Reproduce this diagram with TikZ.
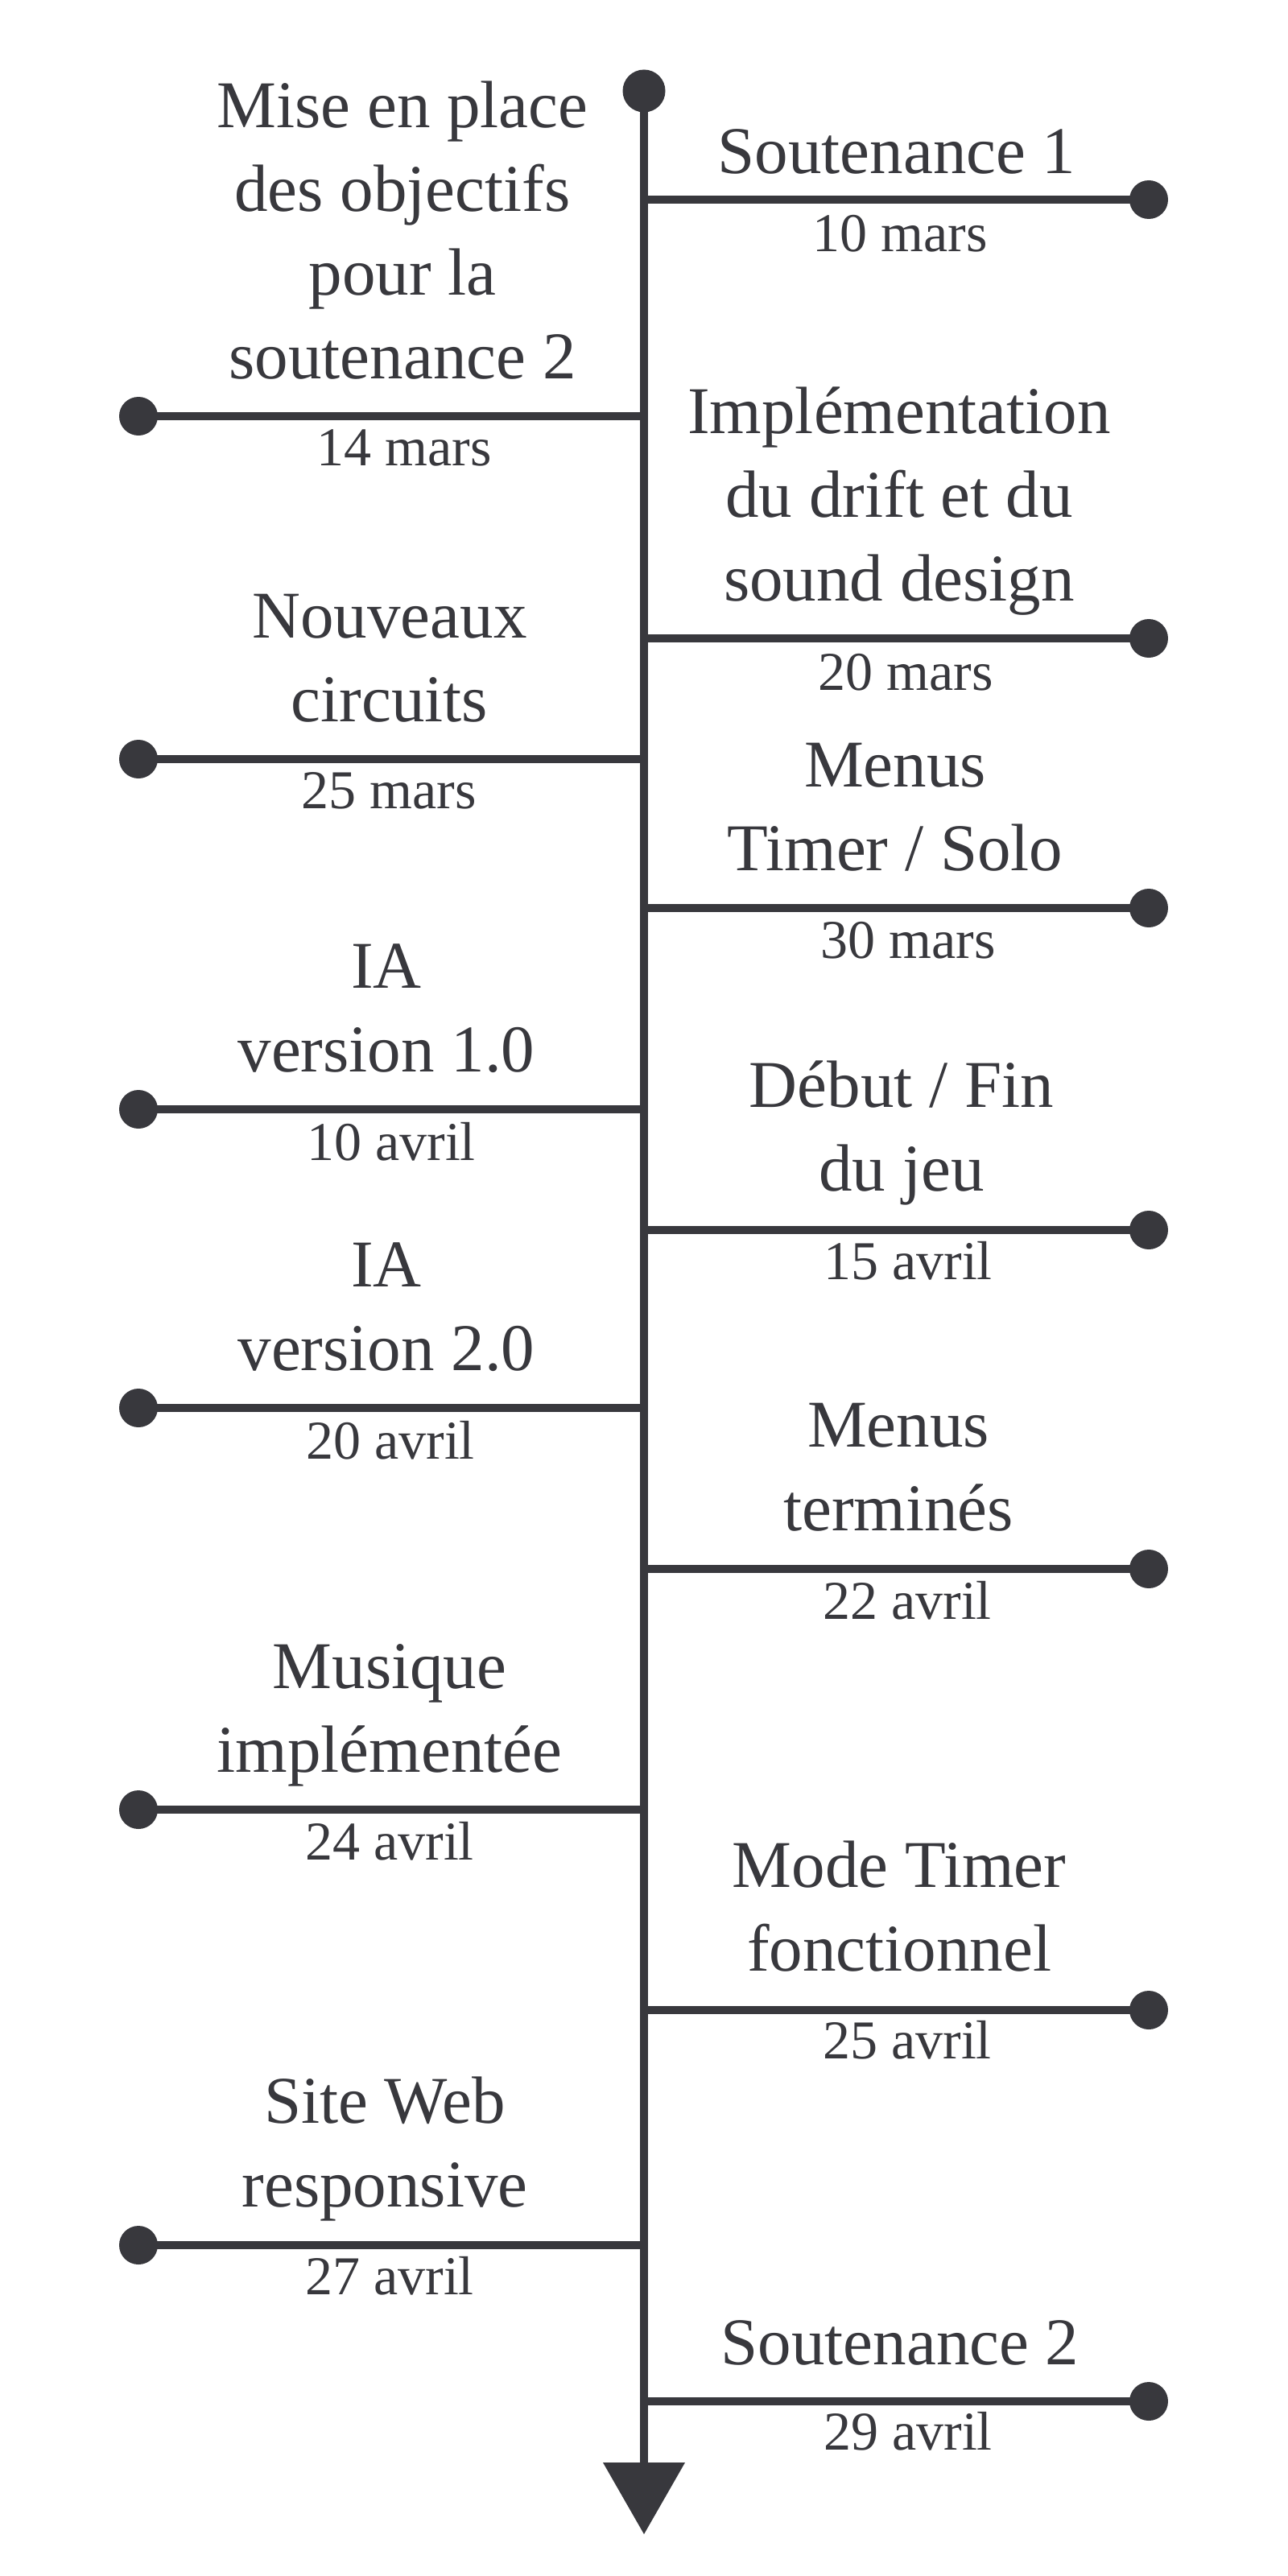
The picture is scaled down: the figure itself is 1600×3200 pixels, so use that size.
\documentclass[tikz,border=0pt]{standalone}
\usepackage{fontspec}
\setmainfont{Liberation Serif}
\definecolor{ink}{RGB}{56,56,61}
\newcommand{\tlbox}[1]{\parbox[b]{300pt}{\centering #1}}
\begin{document}
\begin{tikzpicture}[x=0.5pt,y=-0.5pt,
  axis/.style={draw=ink,line width=5pt},
  bigdot/.style={circle,fill=ink,inner sep=0pt,minimum size=26.5pt},
  enddot/.style={circle,fill=ink,inner sep=0pt,minimum size=24pt},
  title/.style={anchor=base,inner sep=0pt,text=ink,font=\fontsize{41.5}{52}\selectfont},
  date/.style={anchor=base,inner sep=0pt,text=ink,font=\fontsize{34}{40}\selectfont}]
\fill[white] (0,0) rectangle (1600,3200);
\useasboundingbox (0,0) rectangle (1600,3200);

% axis
\node[bigdot] (top) at (800,113) {};
\coordinate (axend) at (800,3062);
\coordinate (arrL) at (749,3059);
\coordinate (arrR) at (851,3059);
\coordinate (arrT) at (800,3148);
\draw[axis] (top.center) -- (axend);
\fill[ink] (arrL) -- (arrR) -- (arrT) -- cycle;

% right branches
\foreach \n/\y in {r1/248,r2/793,r3/1128,r4/1528,r5/1949,r6/2497,r7/2983}{
  \coordinate (j\n) at (800,\y);
  \node[enddot] (d\n) at (1427,\y) {};
  \draw[axis] (j\n) -- (d\n.center);
}
% left branches
\foreach \n/\y in {l1/517,l2/943,l3/1378,l4/1749,l5/2248,l6/2789}{
  \coordinate (j\n) at (800,\y);
  \node[enddot] (d\n) at (172,\y) {};
  \draw[axis] (j\n) -- (d\n.center);
}

% right labels
\node[title] (tr1) at (1114,216) {\tlbox{Soutenance 1}};
\node[date]  (ar1) at (1118,312) {10 mars};
\node[title] (tr2) at (1117,746) {\tlbox{Implémentation\\du drift et du\\sound design}};
\node[date]  (ar2) at (1125,857) {20 mars};
\node[title] (tr3) at (1112,1081) {\tlbox{Menus\\Timer / Solo}};
\node[date]  (ar3) at (1128,1190) {30 mars};
\node[title] (tr4) at (1120,1479) {\tlbox{Début / Fin\\du jeu}};
\node[date]  (ar4) at (1128,1589) {15 avril};
\node[title] (tr5) at (1116,1901) {\tlbox{Menus\\terminés}};
\node[date]  (ar5) at (1127,2011) {22 avril};
\node[title] (tr6) at (1117,2448) {\tlbox{Mode Timer\\fonctionnel}};
\node[date]  (ar6) at (1127,2557) {25 avril};
\node[title] (tr7) at (1118,2937) {\tlbox{Soutenance 2}};
\node[date]  (ar7) at (1128,3043) {29 avril};

% left labels
\node[title] (tl1) at (500,470) {\tlbox{Mise en place\\des objectifs\\pour la\\soutenance 2}};
\node[date]  (al1) at (502,578) {14 mars};
\node[title] (tl2) at (484,896) {\tlbox{Nouveaux\\circuits}};
\node[date]  (al2) at (483,1004) {25 mars};
\node[title] (tl3) at (480,1331) {\tlbox{IA\\version 1.0}};
\node[date]  (al3) at (486,1441) {10 avril};
\node[title] (tl4) at (480,1702) {\tlbox{IA\\version 2.0}};
\node[date]  (al4) at (485,1812) {20 avril};
\node[title] (tl5) at (484,2201) {\tlbox{Musique\\implémentée}};
\node[date]  (al5) at (484,2310) {24 avril};
\node[title] (tl6) at (478,2741) {\tlbox{Site Web\\responsive}};
\node[date]  (al6) at (484,2850) {27 avril};
\end{tikzpicture}
\end{document}
